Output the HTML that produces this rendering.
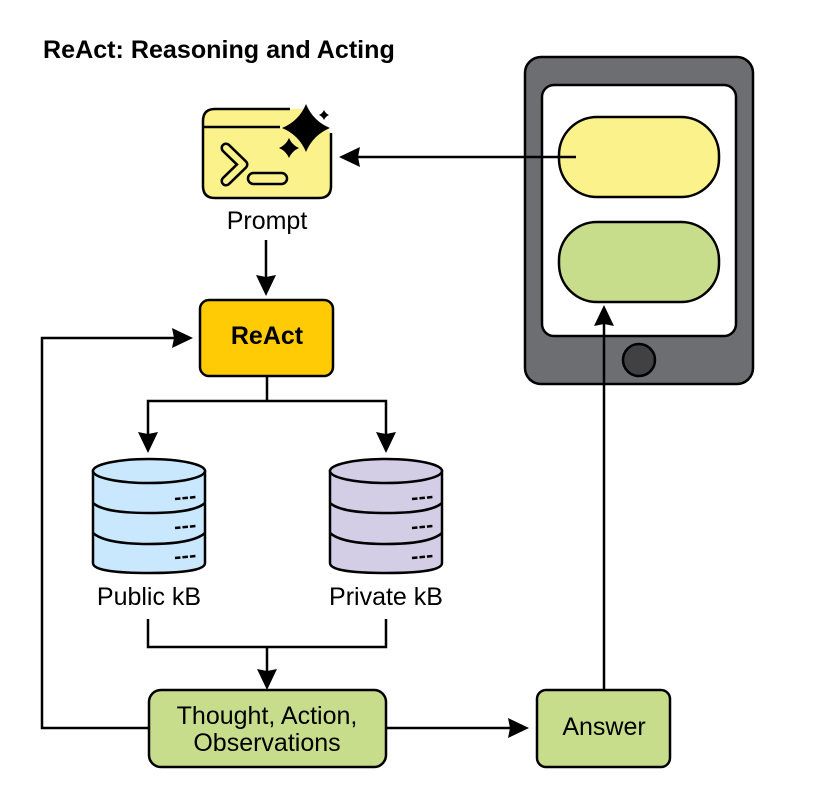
<!DOCTYPE html>
<html><head><meta charset="utf-8"><style>
html,body{margin:0;padding:0;background:#fff}
svg{display:block}
text{font-family:"Liberation Sans",Arial,sans-serif;fill:#000}
</style></head><body>
<svg width="816" height="800" viewBox="0 0 816 800" xmlns="http://www.w3.org/2000/svg">
<defs>
<g id="db" stroke="#000" stroke-width="2.5">
<path d="M-56 -56 V36 C-56 40 -50 46 0 46 C50 46 56 40 56 36 V-56 Z"/>
<ellipse cx="0" cy="-56" rx="56" ry="12"/>
<path d="M-56 -24 C-48 -17 -30 -14 0 -14 C30 -14 48 -17 56 -24" fill="none"/>
<path d="M-56 6 C-48 13 -30 17 0 17 C30 17 48 13 56 6" fill="none"/>
<path d="M26 -28 L47 -30 M26 1 L47 -1 M26 31 L47 29" fill="none" stroke-dasharray="5.5 2" stroke-width="2.5"/>
</g>
</defs>
<rect width="816" height="800" fill="#fff"/>
<text x="43" y="58" font-size="25.1" font-weight="700">ReAct: Reasoning and Acting</text>

<!-- phone -->
<rect x="525" y="57" width="228" height="327" rx="16" fill="#6d6e71" stroke="#000" stroke-width="2.5"/>
<rect x="542" y="85" width="194" height="251" rx="12" fill="#fff" stroke="#000" stroke-width="2.5"/>
<rect x="559" y="117" width="160" height="80" rx="38" fill="#fbf28b" stroke="#000" stroke-width="2.5"/>
<rect x="559" y="222" width="160" height="80" rx="38" fill="#c7dd8c" stroke="#000" stroke-width="2.5"/>
<circle cx="639" cy="360" r="16" fill="#414042" stroke="#000" stroke-width="2.5"/>

<!-- prompt icon -->
<path d="M290 109 H215 Q203 109 203 121 V186 Q203 198 215 198 H319 Q331 198 331 186 V133 L305 109 Z" fill="#fbf28b"/>
<path d="M290 109 H215 Q203 109 203 121 V186 Q203 198 215 198 H319 Q331 198 331 186 V133" fill="none" stroke="#000" stroke-width="2.5"/>
<path d="M203 127 H280" stroke="#000" stroke-width="2.5"/>
<path d="M226 148 L243 164.500 L226 181" fill="none" stroke="#000" stroke-width="11" stroke-linejoin="round" stroke-linecap="round"/>
<path d="M226 148 L243 164.500 L226 181" fill="none" stroke="#fbf28b" stroke-width="6" stroke-linejoin="round" stroke-linecap="round"/>
<rect x="248" y="173" width="39" height="11" rx="5.500" fill="none" stroke="#000" stroke-width="2.500"/>
<path d="M306 104 Q313 121 330 128 Q313 135 306 152 Q299 135 282 128 Q299 121 306 104 Z" fill="#000"/>
<path d="M324 110 Q325.500 113.500 329 115 Q325.500 116.500 324 120 Q322.500 116.500 319 115 Q322.500 113.500 324 110 Z" fill="#000"/>
<path d="M289 138 Q292 145 299 148 Q292 151 289 158 Q286 151 279 148 Q286 145 289 138 Z" fill="#000"/>
<text x="267" y="229" font-size="25" text-anchor="middle">Prompt</text>

<!-- arrow phone to prompt -->
<path d="M576 157 H350" stroke="#000" stroke-width="2.500" fill="none"/>
<path d="M339 157 L360 147 L358 157 L360 167 Z" fill="#000"/>

<!-- prompt to react -->
<path d="M266 240 V285" stroke="#000" stroke-width="2.500" fill="none"/>
<path d="M266 296 L256 275 L266 277 L276 275 Z" fill="#000"/>

<!-- react -->
<rect x="200" y="300" width="133" height="76" rx="9" fill="#ffcb05" stroke="#000" stroke-width="2.500"/>
<text x="267" y="344" font-size="25" font-weight="700" text-anchor="middle">ReAct</text>

<!-- react to dbs -->
<path d="M267 376 V401 M148 442 V401 H386 V442" stroke="#000" stroke-width="2.500" fill="none"/>
<path d="M148 453 L138 432 L148 434 L158 432 Z" fill="#000"/>
<path d="M386 453 L376 432 L386 434 L396 432 Z" fill="#000"/>

<!-- dbs -->
<use href="#db" x="149" y="527" fill="#c9e8fd"/>
<use href="#db" x="386" y="527" fill="#d3cde5"/>
<text x="149" y="605" font-size="25" text-anchor="middle">Public kB</text>
<text x="386" y="605" font-size="25" text-anchor="middle">Private kB</text>

<!-- dbs to thought -->
<path d="M148 619 V647 H386 V619 M267 647 V680" stroke="#000" stroke-width="2.500" fill="none"/>
<path d="M267 690 L257 669 L267 671 L277 669 Z" fill="#000"/>

<!-- thought -->
<rect x="149" y="690" width="237" height="77" rx="12" fill="#c7dd8c" stroke="#000" stroke-width="2.500"/>
<text x="267" y="724" font-size="25" text-anchor="middle">Thought, Action,</text>
<text x="267" y="751" font-size="25" text-anchor="middle">Observations</text>

<!-- loop -->
<path d="M149 728 H42 V338 H182" stroke="#000" stroke-width="2.500" fill="none"/>
<path d="M193 338 L172 328 L174 338 L172 348 Z" fill="#000"/>

<!-- to answer -->
<path d="M386 728 H518" stroke="#000" stroke-width="2.500" fill="none"/>
<path d="M529 728 L508 718 L510 728 L508 738 Z" fill="#000"/>

<!-- answer -->
<rect x="537" y="690" width="133" height="77" rx="9" fill="#c7dd8c" stroke="#000" stroke-width="2.500"/>
<text x="604" y="735" font-size="25" text-anchor="middle">Answer</text>

<!-- answer to phone -->
<path d="M604 690 V315" stroke="#000" stroke-width="2.500" fill="none"/>
<path d="M604 305 L594 326 L604 324 L614 326 Z" fill="#000"/>
</svg>
</body></html>
